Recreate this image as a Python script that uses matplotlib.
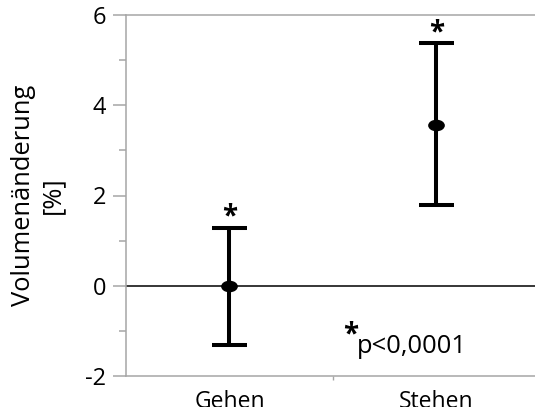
import matplotlib
matplotlib.use("Agg")
import matplotlib.pyplot as plt
from matplotlib.path import Path
from matplotlib.transforms import Affine2D

# Daten
gruppen = ["Gehen", "Stehen"]
mittel = [0.0, 3.56]
oben = [1.29, 5.37]
unten = [-1.31, 1.79]
signifikant = ["*", "*"]
p_text = "p<0,0001"

plt.rcParams['font.family'] = ['Open Sans', 'DejaVu Sans']
plt.rcParams['axes.unicode_minus'] = False

grau = "#a6a6a6"
fig = plt.figure(figsize=(5.35, 4.07), dpi=100)
ax = fig.add_axes([126 / 535, 31 / 407, 414 / 535, 361 / 407])

x = list(range(len(gruppen)))
err = [[m - u for m, u in zip(mittel, unten)], [o - m for m, o in zip(mittel, oben)]]

# Nulllinie
ax.axhline(0, color="black", lw=1.1, zorder=1)

# Ellipse als Marker
ellipse = Path.unit_circle().transformed(Affine2D().scale(1.5, 1.0))
ax.errorbar(x, mittel, yerr=err, fmt="none", ecolor="black",
            elinewidth=2.9, capsize=12.6, capthick=2.9, zorder=3)
ax.plot(x, mittel, linestyle="none", marker=ellipse, ms=11, color="black", zorder=4)

for xi, o, s in zip(x, oben, signifikant):
    ax.annotate(s, (xi, o), xytext=(0, -3), textcoords="offset points",
                ha="center", va="bottom", fontsize=20, fontweight="bold")

ax.text(0.585, -0.78, "*", ha="center", va="top", fontsize=20, fontweight="bold")
ax.text(0.615, -1.49, p_text, ha="left", va="baseline", fontsize=18.4)

ax.set_xlim(-0.5, 1.5)
ax.set_ylim(-2, 6)
ax.set_yticks([-2, 0, 2, 4, 6])
ax.set_yticks([-1, 1, 3, 5], minor=True)
ax.set_xticks(x)
ax.set_xticklabels(gruppen)
ax.set_xticks([0.5], minor=True)

ax.tick_params(axis="y", which="major", length=9.4, width=1.1, color=grau,
               labelsize=17, pad=5)
ax.tick_params(axis="y", which="minor", length=5, width=1.1, color=grau)
ax.tick_params(axis="x", which="major", length=0, labelsize=16.5, pad=10)
ax.tick_params(axis="x", which="minor", length=3, width=1, color=grau)

for side in ["left", "top", "bottom"]:
    ax.spines[side].set_color(grau)
    ax.spines[side].set_linewidth(1.1)
ax.spines["right"].set_visible(False)

ax.set_ylabel("Volumenänderung\n[%]", fontsize=18.4, labelpad=14, linespacing=1.25)

fig.savefig("out.png", dpi=100)
